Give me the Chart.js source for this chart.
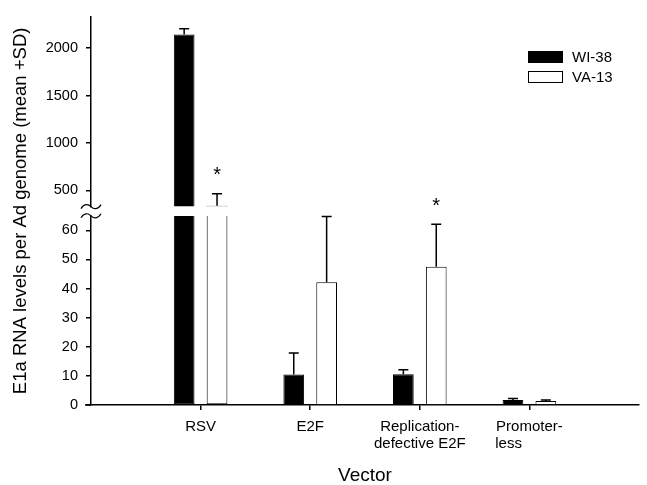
<!DOCTYPE html>
<html>
<head>
<meta charset="utf-8">
<script src="https://cdn.jsdelivr.net/npm/chart.js@4.4.1/dist/chart.umd.min.js"></script>
<style>
  html, body { margin: 0; padding: 0; background: #fff; }
  #wrap { width: 647px; height: 485px; }
</style>
</head>
<body>
<div id="wrap"><canvas id="c" width="647" height="485"></canvas></div>
<script>
// ---- data ----
const categories = ['RSV', 'E2F', ['Replication-', 'defective E2F'], ['Promoter-', 'less          ']];
const seriesNames = ['WI-38', 'VA-13'];
const wi38 = [2145, 10.5, 10.6, 1.7];
const wi38Sd = [60, 7.4, 1.5, 0.5];
const va13 = [340, 42.2, 47.5, 1.4];
const va13Sd = [125, 22.6, 14.6, 0.3];
const va13Significant = [true, false, true, false];
const lowTicks = [0, 10, 20, 30, 40, 50, 60];
const highTicks = [500, 1000, 1500, 2000];
const lowMin = 0, lowMax = 65;          // lower (broken) panel
const highMin = 233, highMax = 2332;    // upper panel
const breakValue = 330;                 // where upper bar segments begin

const FONT = "'Liberation Sans', Arial, sans-serif";
const labels = [''].concat(categories, ['']);
const pad = arr => [null].concat(arr, [null]);
const lowPart = arr => pad(arr.map(v => Math.min(v, lowMax)));
const highPart = arr => pad(arr.map(v => v > lowMax ? [breakValue, v] : null));
const clippedSkip = (arr) => (ctx) => {
  const v = arr[ctx.dataIndex - 1];
  return (v !== undefined && v > lowMax) ? 'end' : 'start';
};

const styleA = { backgroundColor: '#000', borderColor: '#000', borderWidth: 1 };
const styleB = { backgroundColor: '#fff', borderColor: '#000', borderWidth: 1 };

const sdMap = [
  { vals: wi38, sd: wi38Sd, ds: 0, sig: null },
  { vals: va13, sd: va13Sd, ds: 1, sig: va13Significant }
];

const extrasPlugin = {
  id: 'extras',
  afterDatasetsDraw(chart) {
    const ctx = chart.ctx;
    const area = chart.chartArea;
    const yLow = chart.scales.yLow, yHigh = chart.scales.yHigh;
    const yTop = yHigh.getPixelForValue(breakValue);
    const yBot = yLow.top;
    ctx.save();
    // the gap of the broken axis
    ctx.fillStyle = '#fff';
    ctx.fillRect(area.left - 4, yTop + 0.8, area.right - area.left + 4, yBot - yTop - 1.3);
    ctx.strokeStyle = '#000';
    ctx.fillStyle = '#000';
    ctx.lineWidth = 1.5;
    sdMap.forEach(s => {
      const meta = chart.getDatasetMeta(s.ds);
      s.vals.forEach((v, i) => {
        const bar = meta.data[i + 1];
        if (!bar) return;
        const sc = v > lowMax ? yHigh : yLow;
        const y0 = sc.getPixelForValue(v);
        const y1 = sc.getPixelForValue(v + s.sd[i]);
        const x = bar.x;
        ctx.beginPath();
        ctx.moveTo(x, y0);
        ctx.lineTo(x, y1);
        ctx.moveTo(x - 5, y1);
        ctx.lineTo(x + 5, y1);
        ctx.stroke();
        if (s.sig && s.sig[i]) {
          ctx.font = '20px ' + FONT;
          ctx.textAlign = 'center';
          ctx.textBaseline = 'middle';
          ctx.fillText('*', x, y1 - 18);
        }
      });
    });
    // break marks on the axis
    ctx.strokeStyle = '#000';
    ctx.lineWidth = 1.2;
    [yTop, yBot].forEach(yc => {
      const x = area.left;
      ctx.beginPath();
      ctx.moveTo(x - 10, yc + 2);
      ctx.bezierCurveTo(x - 7, yc - 3, x - 3, yc - 3, x, yc);
      ctx.bezierCurveTo(x + 3, yc + 3, x + 7, yc + 3, x + 10, yc - 2);
      ctx.stroke();
    });
    ctx.restore();
  },
  afterDraw(chart) {
    const ctx = chart.ctx;
    const area = chart.chartArea;
    ctx.save();
    // x axis line continues a little left of the y axis
    ctx.strokeStyle = '#000';
    ctx.lineWidth = 1.5;
    ctx.beginPath();
    ctx.moveTo(area.left - 6, area.bottom);
    ctx.lineTo(area.left, area.bottom);
    ctx.stroke();
    // legend
    const lx = 528, ly = 51, bw = 35, bh = 12, gap = 20;
    ctx.font = '15px ' + FONT;
    ctx.textAlign = 'left';
    ctx.textBaseline = 'middle';
    ctx.lineWidth = 1;
    seriesNames.forEach((name, i) => {
      const ds = chart.data.datasets[i];
      const y = ly + i * gap;
      ctx.fillStyle = ds.backgroundColor;
      ctx.fillRect(lx, y, bw, bh);
      ctx.strokeStyle = '#000';
      ctx.strokeRect(lx + 0.5, y + 0.5, bw - 1, bh - 1);
      ctx.fillStyle = '#000';
      ctx.fillText(name, lx + bw + 9, y + bh / 2 + 0.5);
    });
    ctx.restore();
  }
};

const tickFont = { family: FONT, size: 14.5 };
const plainTick = (v) => String(v);

new Chart(document.getElementById('c'), {
  type: 'bar',
  data: {
    labels: labels,
    datasets: [
      Object.assign({ label: seriesNames[0], data: lowPart(wi38), yAxisID: 'yLow', stack: 'a', borderSkipped: clippedSkip(wi38) }, styleA),
      Object.assign({ label: seriesNames[1], data: lowPart(va13), yAxisID: 'yLow', stack: 'b', borderSkipped: clippedSkip(va13) }, styleB),
      Object.assign({ label: seriesNames[0] + ' (upper)', data: highPart(wi38), yAxisID: 'yHigh', stack: 'a', borderSkipped: 'start' }, styleA),
      Object.assign({ label: seriesNames[1] + ' (upper)', data: highPart(va13), yAxisID: 'yHigh', stack: 'b', borderSkipped: 'start' }, styleB)
    ]
  },
  options: {
    responsive: false,
    animation: false,
    devicePixelRatio: 1,
    categoryPercentage: 0.6,
    barPercentage: 0.63,
    layout: { padding: { top: 14, right: 0, bottom: 0, left: 0 } },
    plugins: { legend: { display: false }, tooltip: { enabled: false } },
    scales: {
      x: {
        type: 'category',
        offset: false,
        grid: {
          offset: false,
          drawOnChartArea: false,
          drawTicks: true,
          tickLength: 5,
          lineWidth: 1.5,
          color: (c) => (c.index === 0 || c.index === labels.length - 1) ? 'rgba(0,0,0,0)' : '#000'
        },
        border: { display: true, color: '#000', width: 1.5 },
        ticks: { color: '#000', font: { family: FONT, size: 15, lineHeight: 1.13 }, padding: 8, maxRotation: 0, autoSkip: false },
        title: { display: true, text: 'Vector', color: '#000', font: { family: FONT, size: 19, lineHeight: 1 }, padding: { top: 0, bottom: 0 } },
        afterFit: (s) => { s.height = 80; }
      },
      yLow: {
        type: 'linear', position: 'left', stack: 'v', stackWeight: 190.5,
        min: lowMin, max: lowMax, stacked: false,
        grid: { drawOnChartArea: false, drawTicks: true, tickLength: 5, color: '#000', lineWidth: 1.5 },
        border: { display: true, color: '#000', width: 1.5 },
        ticks: { color: '#000', font: tickFont, padding: 8, autoSkip: false, callback: plainTick },
        afterBuildTicks: (s) => { s.ticks = lowTicks.map(v => ({ value: v })); },
        afterFit: (s) => { s.width = 59; }
      },
      yHigh: {
        type: 'linear', position: 'left', stack: 'v', stackWeight: 200.5,
        min: highMin, max: highMax, stacked: false,
        grid: { drawOnChartArea: false, drawTicks: true, tickLength: 5, color: '#000', lineWidth: 1.5 },
        border: { display: true, color: '#000', width: 1.5 },
        ticks: { color: '#000', font: tickFont, padding: 8, autoSkip: false, callback: plainTick },
        afterBuildTicks: (s) => { s.ticks = highTicks.map(v => ({ value: v })); },
        afterFit: (s) => { s.width = 59; }
      },
      yTitle: {
        type: 'linear', position: 'left', weight: 10, min: 0, max: 1, display: true,
        grid: { display: false, drawTicks: false },
        border: { display: false },
        ticks: { display: false },
        title: { display: true, text: 'E1a RNA levels per Ad genome (mean +SD)', color: '#000', font: { family: FONT, size: 18.5, lineHeight: 1.2 }, padding: { top: 10, bottom: 0 } },
        afterFit: (s) => { s.width = 32; }
      }
    }
  },
  plugins: [extrasPlugin]
});
</script>
</body>
</html>
